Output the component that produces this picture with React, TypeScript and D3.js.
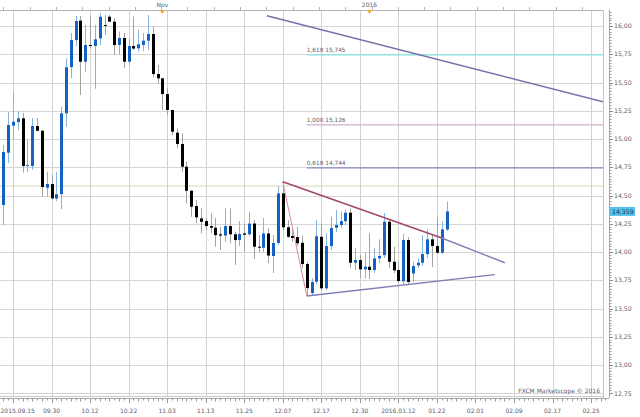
import * as d3 from 'd3';

// daily candles, 2015.09.11 .. 2016.01.26
const opens = [
  14.416, 14.879, 15.118, 15.150, 15.183, 14.763, 14.761, 15.115, 15.073, 14.569,
  14.602, 14.472, 14.513, 15.227, 15.637, 15.876, 16.047, 15.684, 15.832, 15.823,
  15.891, 16.009, 16.082, 16.038, 15.832, 15.894, 15.684, 15.823, 15.803, 15.832,
  15.870, 15.929, 15.575, 15.537, 15.398, 15.257, 15.056, 14.956, 14.755, 14.542,
  14.407, 14.298, 14.274, 14.230, 14.215, 14.157, 14.146, 14.230, 14.157, 14.106,
  14.165, 14.157, 14.252, 14.047, 14.038, 14.164, 13.965, 14.080, 14.519, 14.219,
  14.142, 14.133, 14.082, 13.894, 13.637, 13.737, 14.135, 13.679, 14.053, 14.215,
  14.239, 14.274, 14.348, 13.905, 13.929, 13.847, 13.870, 13.841, 13.944, 13.973,
  14.268, 13.914, 13.841, 13.741, 14.106, 13.810, 13.882, 13.905, 13.982, 14.112,
  14.053, 13.994, 14.200,
];
const highs = [
  14.947, 15.239, 15.419, 15.248, 15.230, 14.991, 15.186, 15.186, 15.080, 14.711,
  14.681, 14.708, 15.286, 15.714, 15.938, 16.088, 16.088, 16.009, 16.082, 16.009,
  16.115, 16.097, 16.097, 16.068, 15.950, 15.938, 15.894, 16.084, 15.965, 15.938,
  16.097, 15.994, 15.655, 15.540, 15.449, 15.257, 15.095, 15.050, 14.800, 14.549,
  14.460, 14.387, 14.300, 14.342, 14.300, 14.221, 14.387, 14.387, 14.180, 14.274,
  14.254, 14.357, 14.283, 14.150, 14.301, 14.212, 14.150, 14.584, 14.619, 14.283,
  14.212, 14.224, 14.142, 13.912, 13.770, 14.283, 14.254, 14.168, 14.312, 14.372,
  14.357, 14.378, 14.387, 14.033, 13.973, 13.994, 14.165, 14.033, 14.112, 14.345,
  14.283, 14.047, 13.912, 14.159, 14.133, 13.914, 13.947, 14.150, 14.200, 14.159,
  14.310, 14.274, 14.445,
];
const lows = [
  14.239, 14.788, 14.991, 15.080, 14.702, 14.710, 14.726, 15.070, 14.489, 14.489,
  14.460, 14.450, 14.381, 15.109, 15.540, 15.823, 15.389, 15.596, 15.805, 15.445,
  15.832, 15.920, 16.035, 15.743, 15.743, 15.628, 15.655, 15.790, 15.773, 15.779,
  15.788, 15.546, 15.493, 15.257, 15.212, 15.035, 14.918, 14.711, 14.431, 14.312,
  14.254, 14.165, 14.195, 14.165, 14.047, 14.018, 14.088, 14.076, 13.885, 14.053,
  14.003, 14.142, 13.938, 14.000, 14.000, 13.903, 13.814, 14.062, 14.195, 14.124,
  14.088, 14.053, 13.858, 13.611, 13.620, 13.717, 13.655, 13.664, 14.018, 14.177,
  14.212, 14.239, 13.856, 13.841, 13.770, 13.767, 13.758, 13.814, 13.903, 13.947,
  13.858, 13.814, 13.726, 13.717, 13.708, 13.737, 13.858, 13.876, 13.947, 13.865,
  13.982, 13.982, 14.186,
];
const closes = [
  14.885, 15.124, 15.153, 15.183, 14.761, 14.770, 15.115, 15.073, 14.575, 14.602,
  14.475, 14.511, 15.227, 15.635, 15.876, 16.044, 15.684, 15.832, 15.823, 15.882,
  16.082, 16.005, 16.038, 15.832, 15.894, 15.684, 15.823, 15.800, 15.838, 15.870,
  15.929, 15.575, 15.537, 15.398, 15.257, 15.065, 14.956, 14.755, 14.542, 14.401,
  14.307, 14.268, 14.230, 14.215, 14.150, 14.146, 14.230, 14.157, 14.106, 14.159,
  14.153, 14.252, 14.047, 14.038, 14.165, 13.969, 14.080, 14.519, 14.219, 14.135,
  14.124, 14.077, 13.894, 13.681, 13.735, 14.139, 13.679, 14.053, 14.212, 14.239,
  14.274, 14.348, 13.905, 13.929, 13.847, 13.870, 13.841, 13.944, 13.965, 14.268,
  13.914, 13.838, 13.743, 14.106, 13.735, 13.876, 13.905, 13.982, 14.112, 14.053,
  13.994, 14.200, 14.359,
];

// bottom axis labels, one every 8 bars starting at bar 2
const dateLabels = [
  '2015.09.15', '09.30', '10.12', '10.22', '11.03', '11.13', '11.25', '12.07',
  '12.17', '12.30', '2016.01.12', '01.22', '02.01', '02.09', '02.17', '02.25',
];
const dateBars = [2, 10, 18, 26, 34, 42, 50, 58, 66, 74, 82, 90, 98, 106, 114, 122];
const priceTicks = [12.75, 13.0, 13.25, 13.5, 13.75, 14.0, 14.25, 14.5, 14.75, 15.0, 15.25, 15.5, 15.75, 16.0];
const topMarkers = [{ label: 'Nov', bar: 33 }, { label: '2016', bar: 76 }];

// fibonacci extension levels
const fibRatios = ['1,618', '1,000', '0,618'];
const fibPrices = [15.745, 15.126, 14.744];
const fibColors = ['#86e3e3', '#cfb0cc', '#8a88b8'];
const fibStartBar = 63;
const markerLine = 14.584;
const lastPrice = 14.359;

// trend lines: [bar, price] pairs
const longTrend: [number, number][] = [[54.7, 16.09], [124.5, 15.33]];
const upperTrendA: [number, number][] = [[58, 14.622], [91, 14.124]];
const upperTrendB: [number, number][] = [[91, 14.124], [104.1, 13.905]];
const legDown: [number, number][] = [[58, 14.622], [63, 13.611]];
const lowerTrend: [number, number][] = [[63, 13.611], [102, 13.800]];

const W = 640;
const H = 417;
const LEFT = 0;
const RIGHT = 603;
const TOP = 10;
const BOTTOM = 396;
const FONT = 'DejaVu Sans, Verdana, sans-serif';
const TXT = '#5b6070';

const fmt = (v: number, d: number) => v.toFixed(d).replace('.', ',');

export default function App() {
  const x = d3.scaleLinear().domain([0, 92]).range([3.37, 3.37 + 4.817 * 92]);
  const y = d3.scaleLinear().domain([12.75, 16]).range([393.3, 26]);
  const line = d3.line<[number, number]>().x(d => x(d[0])).y(d => y(d[1]));

  const minor = d3.range(12.75, 16.16, 0.025).filter(v => y(v) >= TOP && y(v) <= BOTTOM);
  const barTicks = d3.range(0, 126);
  const topTicks = d3.range(3.3, RIGHT, 26.3);

  return (
    <svg width={W} height={H} style={{ position: 'absolute', left: 0, top: 0, background: '#fff' }} fontFamily={FONT}>
      <rect x={0} y={0} width={W} height={H} fill="#fff" />
      <defs>
        <clipPath id="plot">
          <rect x={LEFT} y={TOP} width={RIGHT - LEFT} height={BOTTOM - TOP} />
        </clipPath>
      </defs>

      {/* grid */}
      {priceTicks.map(v => (
        <line key={'h' + v} x1={LEFT} x2={RIGHT} y1={Math.round(y(v)) + 0.5} y2={Math.round(y(v)) + 0.5} stroke="#d6d6d6" />
      ))}
      {dateBars.map(b => (
        <line key={'v' + b} x1={Math.round(x(b)) + 0.5} x2={Math.round(x(b)) + 0.5} y1={TOP} y2={BOTTOM} stroke="#d2d2d2" />
      ))}

      <g clipPath="url(#plot)">
        <line x1={LEFT} x2={RIGHT} y1={y(markerLine)} y2={y(markerLine)} stroke="#dcd7bb" />
        {fibPrices.map((p, i) => (
          <g key={'f' + i}>
            <line x1={x(fibStartBar)} x2={RIGHT} y1={y(p)} y2={y(p)} stroke={fibColors[i]} strokeWidth={1.2} />
            <text x={x(fibStartBar)} y={y(p) - 3} fontSize={5.8} fill={TXT}>
              {fibRatios[i] + ' ' + fmt(p, 3)}
            </text>
          </g>
        ))}

        {/* candles */}
        {opens.map((o, i) => {
          const c = closes[i];
          const up = c >= o;
          const cx = Math.round(x(i)) + 0.5;
          const top = y(Math.max(o, c));
          const h = Math.max(1, y(Math.min(o, c)) - top);
          return (
            <g key={'c' + i}>
              <line x1={cx} x2={cx} y1={y(highs[i])} y2={y(lows[i])} stroke={up ? '#86b4dc' : '#a2a2a2'} />
              <rect x={cx - 1.5} y={top} width={3} height={h} fill={up ? '#1462c4' : '#000'} />
            </g>
          );
        })}

        <path d={line(longTrend)!} stroke="#7472ab" strokeWidth={1.5} fill="none" />
        <path d={line(legDown)!} stroke="#d68a9c" strokeWidth={1} fill="none" />
        <path d={line(upperTrendA)!} stroke="#a3446a" strokeWidth={1.4} fill="none" />
        <path d={line(upperTrendB)!} stroke="#8481b6" strokeWidth={1.4} fill="none" />
        <path d={line(lowerTrend)!} stroke="#7f7db5" strokeWidth={1.4} fill="none" />
      </g>

      {/* frame */}
      <line x1={LEFT} x2={RIGHT} y1={TOP + 0.5} y2={TOP + 0.5} stroke="#b4b4b4" />
      <line x1={RIGHT + 0.5} x2={RIGHT + 0.5} y1={TOP} y2={BOTTOM + 2} stroke="#c4c4c4" />
      <line x1={LEFT} x2={RIGHT} y1={BOTTOM + 0.5} y2={BOTTOM + 0.5} stroke="#c8c8c8" />

      {/* top axis */}
      {topTicks.map(t => (
        <line key={'tt' + t} x1={Math.round(t) + 0.5} x2={Math.round(t) + 0.5} y1={7} y2={10} stroke="#b4b4b4" />
      ))}
      {topMarkers.map(m => (
        <g key={m.label}>
          <text x={x(m.bar)} y={6.5} fontSize={6} fill={TXT} textAnchor="middle">{m.label}</text>
          <path d={`M${x(m.bar) - 2.5},10 L${x(m.bar) + 2.5},10 L${x(m.bar)},14 Z`} fill="#f0a030" />
        </g>
      ))}

      {/* bottom axis */}
      <line x1={LEFT} x2={RIGHT + 6} y1={398.5} y2={398.5} stroke="#a8a8a8" />
      {barTicks.map(b => (
        <line key={'bt' + b} x1={Math.round(x(b)) + 0.5} x2={Math.round(x(b)) + 0.5} y1={398.5}
          y2={dateBars.includes(b) ? 403 : b % 2 === 0 ? 401.5 : 400.5} stroke="#9a9a9a" />
      ))}
      {dateLabels.map((l, i) => (
        <text key={'dl' + i} x={i === 0 ? 0.5 : x(dateBars[i])} y={413} fontSize={6} fill={TXT}
          textAnchor={i === 0 ? 'start' : 'middle'}>{l}</text>
      ))}

      {/* right axis */}
      <line x1={609.5} x2={609.5} y1={TOP} y2={BOTTOM + 2} stroke="#a8a8a8" />
      {minor.map(v => (
        <line key={'mt' + v} x1={609.5} x2={611.5} y1={Math.round(y(v)) + 0.5} y2={Math.round(y(v)) + 0.5} stroke="#9a9a9a" />
      ))}
      {priceTicks.map(v => (
        <g key={'rl' + v}>
          <line x1={609.5} x2={613} y1={Math.round(y(v)) + 0.5} y2={Math.round(y(v)) + 0.5} stroke="#8a8a8a" />
          <text x={614} y={y(v) + 2.2} fontSize={6.2} fill={TXT}>{fmt(v, 2)}</text>
        </g>
      ))}
      <rect x={610} y={y(lastPrice) - 4.5} width={25} height={9} fill="#55c2ee" />
      <text x={612} y={y(lastPrice) + 2.2} fontSize={6.2} fill="#1d3352">{fmt(lastPrice, 3)}</text>

      <text x={600} y={393} fontSize={6} fill={TXT} textAnchor="end">FXCM Marketscope © 2016</text>
    </svg>
  );
}
